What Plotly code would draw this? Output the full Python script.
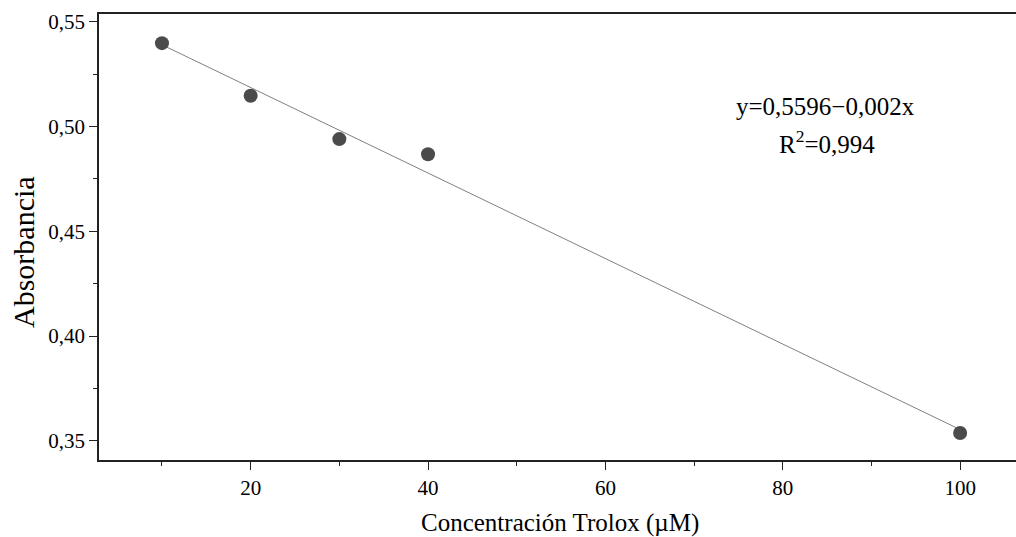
import numpy as np
import plotly.graph_objects as go

conc = [10, 20, 30, 40, 100]
absorb = [0.5398, 0.5147, 0.4940, 0.4868, 0.3538]
x_ticks = [20, 40, 60, 80, 100]
y_ticks = [0.35, 0.40, 0.45, 0.50, 0.55]
eq_text = "y=0,5596\u22120,002x"
r2_text = "R<sup>2</sup>=0,994"

slope, intercept = np.polyfit(conc, absorb, 1)
fit_x = [min(conc), max(conc)]
fit_y = [intercept + slope * v for v in fit_x]

FONT = "Liberation Serif, Times New Roman, serif"

fig = go.Figure()
fig.add_trace(go.Scatter(x=fit_x, y=fit_y, mode="lines",
                         line=dict(color="#808080", width=1), showlegend=False, hoverinfo="skip"))
fig.add_trace(go.Scatter(x=conc, y=absorb, mode="markers",
                         marker=dict(color="#4b4b4b", size=14, line=dict(width=0)),
                         showlegend=False))

fig.update_layout(
    width=1016, height=537,
    margin=dict(l=99, r=0, t=14, b=77, autoexpand=False),
    plot_bgcolor="white", paper_bgcolor="white",
    separators=",.",
    font=dict(family=FONT, size=21, color="black"),
    xaxis=dict(range=[2.9, 106.3], tickvals=x_ticks, ticks="outside", ticklen=8, tickwidth=1.2,
               tickcolor="#222", showline=True, linecolor="#222", linewidth=1.5, mirror=True,
               showgrid=False, zeroline=False,
               minor=dict(dtick=10, tick0=0, ticks="outside", ticklen=4, tickwidth=1.2, tickcolor="#222"),
               tickfont=dict(family=FONT, size=21)),
    yaxis=dict(range=[0.3409, 0.5537], tickvals=y_ticks, tickformat=".2f", ticks="outside",
               ticklen=8, tickwidth=1.2, tickcolor="#222", showline=True, linecolor="#222",
               linewidth=1.5, mirror=False, showgrid=False, zeroline=False,
               minor=dict(dtick=0.025, tick0=0, ticks="outside", ticklen=4, tickwidth=1.2, tickcolor="#222"),
               tickfont=dict(family=FONT, size=21)),
    annotations=[
        dict(text="Concentración Trolox (\u00b5M)", xref="paper", yref="paper",
             x=(560 - 99) / 917, y=-(523 - 460) / 446, xanchor="center", yanchor="middle",
             showarrow=False, font=dict(family=FONT, size=25)),
        dict(text="Absorbancia", xref="paper", yref="paper", textangle=-90,
             x=-(99 - 23) / 917, y=(460 - 252) / 446, xanchor="center", yanchor="middle",
             showarrow=False, font=dict(family=FONT, size=30)),
        dict(text=eq_text, xref="paper", yref="paper",
             x=(825 - 99) / 917, y=(460 - 106) / 446, xanchor="center", yanchor="middle",
             showarrow=False, font=dict(family=FONT, size=25)),
        dict(text=r2_text, xref="paper", yref="paper",
             x=(827 - 99) / 917, y=(460 - 142) / 446, xanchor="center", yanchor="middle",
             showarrow=False, font=dict(family=FONT, size=25)),
    ],
)

fig.write_html("out.html", config={"displayModeBar": False},
               post_script="document.body.style.margin='0';document.body.style.overflow='hidden';"
                           "document.documentElement.style.overflow='hidden';")
